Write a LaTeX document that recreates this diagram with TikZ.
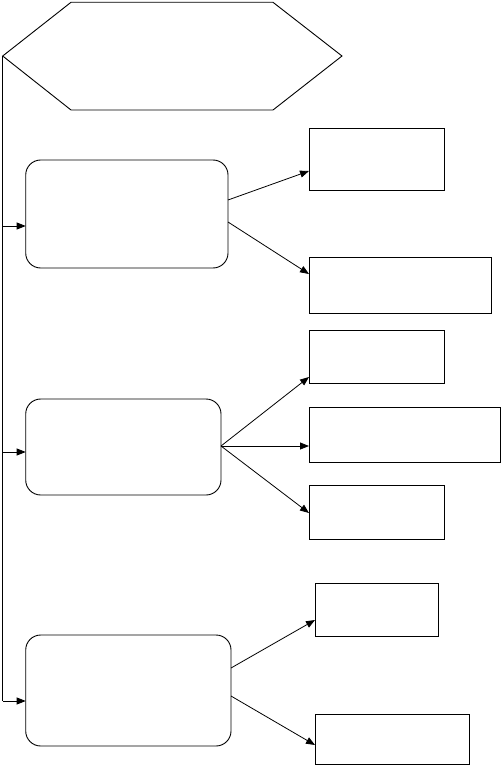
\documentclass[tikz,border=0pt]{standalone}
\usetikzlibrary{arrows.meta}
\begin{document}
\begin{tikzpicture}[x=1pt,y=-1pt,
  line width=0.9pt,
  box/.style={draw, inner sep=0pt, outer sep=0pt, anchor=north west},
  rbox/.style={box, rounded corners=15pt},
  arr/.style={-{Triangle[length=9pt,width=7pt]}, line width=0.8pt}]
\useasboundingbox (0,0) rectangle (501,765);
% hexagon
\draw (2.7,56) -- (71,2.3) -- (273,2.3) -- (342,56) -- (273,110) -- (71,110) -- cycle;
\coordinate (hexL) at (2.7,56);
\coordinate (tA) at (2.7,226);
\coordinate (tC) at (2.7,452);
\coordinate (tD) at (2.7,701);
% boxes
\node[rbox, minimum width=202.3pt, minimum height=108pt] (A) at (25.7,160) {};
\node[box, minimum width=135pt, minimum height=62pt] (B1) at (309,128) {};
\node[box, minimum width=182pt, minimum height=56pt] (B2) at (309,257) {};
\node[rbox, minimum width=195.3pt, minimum height=96pt] (C) at (25.7,399) {};
\node[box, minimum width=135pt, minimum height=53pt] (C1) at (309,330) {};
\node[box, minimum width=191pt, minimum height=55pt] (C2) at (309,407) {};
\node[box, minimum width=135pt, minimum height=54pt] (C3) at (309,485) {};
\node[rbox, minimum width=205.3pt, minimum height=111pt] (D) at (25.7,635) {};
\node[box, minimum width=123pt, minimum height=53pt] (D1) at (315,583) {};
\node[box, minimum width=154pt, minimum height=50pt] (D2) at (315,714) {};
\coordinate (Cout) at ([yshift=1pt]C.east);
% trunk
\draw (hexL) -- (tD);
\draw[arr] (tA) -- (tA -| A.west);
\draw[arr] (tC) -- (tC -| C.west);
\draw[arr] (tD) -- (tD -| D.west);
% branches
\draw[arr] ([yshift=14pt]A.east) -- ([yshift=-12pt]B1.west);
\draw[arr] ([yshift=-8pt]A.east) -- ([yshift=11pt]B2.west);
\draw[arr] (Cout) -- ([yshift=-20.5pt]C1.west);
\draw[arr] (Cout) -- (Cout -| C2.west);
\draw[arr] (Cout) -- ([yshift=-1pt]C3.west);
\draw[arr] ([yshift=22.5pt]D.east) -- ([yshift=-10.5pt]D1.west);
\draw[arr] ([yshift=-5.5pt]D.east) -- ([yshift=-6pt]D2.west);
\end{tikzpicture}
\end{document}
